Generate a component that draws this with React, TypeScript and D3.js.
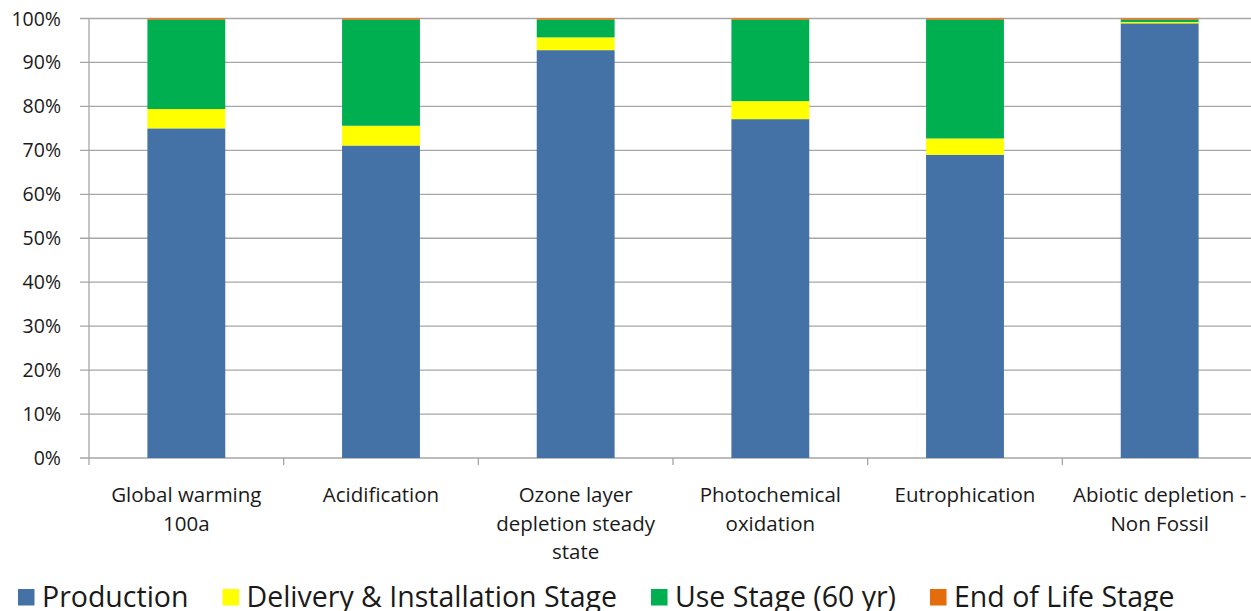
import * as d3 from 'd3';
import { useEffect, useRef } from 'react';

const WIDTH = 1251;
const HEIGHT = 611;

// Impact categories (label lines as wrapped in the source chart)
const categories = [
  ['Global warming', '100a'],
  ['Acidification'],
  ['Ozone layer', 'depletion steady', 'state'],
  ['Photochemical', 'oxidation'],
  ['Eutrophication'],
  ['Abiotic depletion -', 'Non Fossil'],
];

// Share of each life-cycle stage, in percent
const production = [75.0, 71.1, 92.8, 77.1, 69.0, 98.9];
const delivery = [4.4, 4.5, 2.9, 4.1, 3.7, 0.3];
const useStage = [20.3, 24.1, 4.0, 18.5, 27.0, 0.5];
const endOfLife = [0.3, 0.3, 0.3, 0.3, 0.3, 0.3];

const seriesNames = ['Production', 'Delivery & Installation Stage', 'Use Stage (60 yr)', 'End of Life Stage'];
const seriesColors = ['#4472a6', '#ffff00', '#00b050', '#e46c0a'];

const yTicks = [0, 10, 20, 30, 40, 50, 60, 70, 80, 90, 100];

const FONT = "'Open Sans', sans-serif";
const TEXT_COLOR = '#1a1a1a';

export default function App() {
  const svgRef = useRef<SVGSVGElement>(null);

  useEffect(() => {
    if (!svgRef.current) return;
    const svg = d3.select(svgRef.current);
    svg.selectAll('*').remove();

    const margin = { left: 89, right: -6, top: 18.5, bottom: 153 };
    const plotRight = WIDTH - margin.right;
    const plotBottom = HEIGHT - margin.bottom;

    const x = d3
      .scaleBand<number>()
      .domain(d3.range(categories.length))
      .range([margin.left, plotRight])
      .padding(0);
    const barWidth = x.bandwidth() * 0.4;

    const y = d3.scaleLinear().domain([0, 100]).range([plotBottom, margin.top]);

    // gridlines + y ticks
    const grid = svg.append('g');
    yTicks.forEach((t) => {
      grid
        .append('line')
        .attr('x1', margin.left - 9)
        .attr('x2', plotRight)
        .attr('y1', y(t))
        .attr('y2', y(t))
        .attr('stroke', '#a6a6a6')
        .attr('stroke-width', 1.3);
      grid
        .append('text')
        .attr('x', 61)
        .attr('y', y(t))
        .attr('dy', '0.36em')
        .attr('text-anchor', 'end')
        .attr('font-family', FONT)
        .attr('font-size', 19.5)
        .attr('fill', TEXT_COLOR)
        .text(`${t}%`);
    });

    // y axis line
    svg
      .append('line')
      .attr('x1', margin.left)
      .attr('x2', margin.left)
      .attr('y1', margin.top)
      .attr('y2', plotBottom)
      .attr('stroke', '#a6a6a6')
      .attr('stroke-width', 1.3);

    // x category ticks
    d3.range(categories.length + 1).forEach((i) => {
      const xp = margin.left + i * x.step();
      svg
        .append('line')
        .attr('x1', xp)
        .attr('x2', xp)
        .attr('y1', plotBottom)
        .attr('y2', plotBottom + 7)
        .attr('stroke', '#a6a6a6')
        .attr('stroke-width', 1.3);
    });

    // stacked bars
    const rows = categories.map((_, i) => ({
      i,
      s0: production[i],
      s1: delivery[i],
      s2: useStage[i],
      s3: endOfLife[i],
    }));
    const stack = d3.stack<(typeof rows)[number]>().keys(['s0', 's1', 's2', 's3']);
    const layers = stack(rows);

    layers.forEach((layer, k) => {
      svg
        .append('g')
        .attr('fill', seriesColors[k])
        .selectAll('rect')
        .data(layer)
        .enter()
        .append('rect')
        .attr('x', (d) => (x(d.data.i) ?? 0) + (x.bandwidth() - barWidth) / 2)
        .attr('width', barWidth)
        .attr('y', (d) => y(Math.min(d[1], 100)))
        .attr('height', (d) => Math.max(0, y(d[0]) - y(Math.min(d[1], 100))));
    });

    // category labels
    categories.forEach((lines, i) => {
      const cx = (x(i) ?? 0) + x.bandwidth() / 2;
      const t = svg
        .append('text')
        .attr('text-anchor', 'middle')
        .attr('font-family', FONT)
        .attr('font-size', 20.5)
        .attr('fill', TEXT_COLOR);
      lines.forEach((line, j) => {
        t.append('tspan')
          .attr('x', cx)
          .attr('y', 502 + j * 28.5)
          .text(line);
      });
    });

    // legend
    const legend = svg.append('g');
    let lx = 18;
    seriesNames.forEach((name, k) => {
      legend
        .append('rect')
        .attr('x', lx)
        .attr('y', 589)
        .attr('width', 16.5)
        .attr('height', 16.5)
        .attr('fill', seriesColors[k]);
      const label = legend
        .append('text')
        .attr('x', lx + 24)
        .attr('y', 607)
        .attr('font-family', FONT)
        .attr('font-size', 28.5)
        .attr('fill', TEXT_COLOR)
        .text(name);
      const w = (label.node() as SVGTextElement).getComputedTextLength();
      lx += 24 + w + 34;
    });
  }, []);

  return (
    <svg
      ref={svgRef}
      width={WIDTH}
      height={HEIGHT}
      style={{ position: 'absolute', left: 0, top: 0, background: '#fff' }}
    />
  );
}
